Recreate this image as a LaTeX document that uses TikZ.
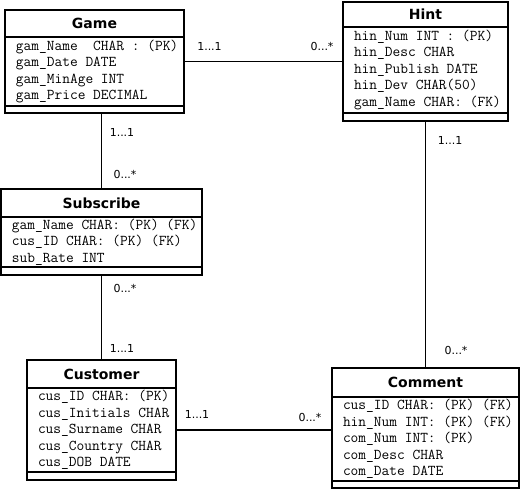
\documentclass[tikz,border=0pt]{standalone}
\usepackage{fontspec}
\newfontfamily\labelfont{DejaVu Sans}
\newcommand\attrfont{\ttfamily\fontsize{15}{16.5}\selectfont}
\newcommand\blank{\hphantom{x}}
\usetikzlibrary{positioning,calc}

\begin{document}
\begin{tikzpicture}[x=1pt, y=-1pt, line width=1.6pt, node distance=0pt]
    \tikzstyle{box}=[draw=black, rectangle, inner sep=0pt, outer sep=0pt]
    \tikzstyle{entity name}=[box, font=\labelfont\bfseries\fontsize{14}{16}\selectfont, minimum height=27pt]
    \tikzstyle{entity attrs}=[box, font=\attrfont, align=left, inner xsep=11pt]
    \tikzstyle{entity tail}=[box, minimum height=8pt]
    \tikzstyle{mult}=[font=\labelfont\fontsize{11}{13}\selectfont]

    \useasboundingbox (0,0) rectangle (520,489);

    % Draw the Game entity
    \node[entity name, minimum width=179pt, anchor=north] (game) at (94.5,10) {Game};
    \node[entity attrs, text width=157pt, minimum height=69pt, below=of game] (game-attrs)
        {gam\_Name\blank\blank CHAR\blank:\blank(PK)\\gam\_Date\blank DATE\\gam\_MinAge\blank INT\\gam\_Price\blank DECIMAL};
    \node[entity tail, minimum width=179pt, minimum height=7pt, below=of game-attrs] (game-tail) {};

    % Draw the Hint entity
    \node[entity name, minimum width=165pt, minimum height=25pt, anchor=north] (hint) at (425.5,2) {Hint};
    \node[entity attrs, text width=143pt, minimum height=86pt, below=of hint] (hint-attrs)
        {hin\_Num\blank INT\blank:\blank(PK)\\hin\_Desc\blank CHAR\\hin\_Publish\blank DATE\\hin\_Dev\blank CHAR(50)\\gam\_Name\blank CHAR:\blank(FK)};
    \node[entity tail, minimum width=165pt, below=of hint-attrs] (hint-tail) {};

    % Draw the Subscribe entity
    \node[entity name, minimum width=201pt, minimum height=28pt, anchor=north] (subscribe) at (101.5,189) {Subscribe};
    \node[entity attrs, text width=179pt, minimum height=50pt, below=of subscribe] (subscribe-attrs)
        {gam\_Name\blank CHAR:\blank(PK)\blank(FK)\\cus\_ID\blank CHAR:\blank(PK)\blank(FK)\\sub\_Rate\blank INT};
    \node[entity tail, minimum width=201pt, below=of subscribe-attrs] (subscribe-tail) {};

    % Draw the Customer entity
    \node[entity name, minimum width=149pt, minimum height=28pt, anchor=north] (customer) at (101.5,360) {Customer};
    \node[entity attrs, text width=127pt, minimum height=84pt, below=of customer] (customer-attrs)
        {cus\_ID\blank CHAR:\blank(PK)\\cus\_Initials\blank CHAR\\cus\_Surname\blank CHAR\\cus\_Country\blank CHAR\\cus\_DOB\blank DATE};
    \node[entity tail, minimum width=149pt, below=of customer-attrs] (customer-tail) {};

    % Draw the Comment entity
    \node[entity name, minimum width=187pt, minimum height=29pt, anchor=north] (comment) at (425.5,368) {Comment};
    \node[entity attrs, text width=165pt, minimum height=84pt, below=of comment] (comment-attrs)
        {cus\_ID\blank CHAR:\blank(PK)\blank(FK)\\hin\_Num\blank INT:\blank(PK)\blank(FK)\\com\_Num\blank INT:\blank(PK)\\com\_Desc\blank CHAR\\com\_Date\blank DATE};
    \node[entity tail, minimum width=187pt, minimum height=7pt, below=of comment-attrs] (comment-tail) {};

    % Connect the entities
    \draw ($(game.north east)!.5!(game-tail.south east)$) -- ($(hint.north west)!.5!(hint-tail.south west)$);
    \draw (subscribe.north |- game-tail.south) -- (subscribe.north);
    \draw (subscribe-tail) -- (customer);
    \draw (hint-tail) -- (comment);
    \draw (customer-attrs.east) -- (customer-attrs.east -| comment-attrs.west);

    % Annotate the multiplicities
    \node[mult] (gh-1) at (209.5,46) {1...1};
    \node[mult] (gh-2) at (322,46) {0...*};
    \node[mult] (gs-1) at (122,132) {1...1};
    \node[mult] (gs-2) at (125,174) {0...*};
    \node[mult] (sc-1) at (125,288) {0...*};
    \node[mult] (sc-2) at (122,348) {1...1};
    \node[mult] (hc-1) at (450,140) {1...1};
    \node[mult] (hc-2) at (456,350) {0...*};
    \node[mult] (cc-1) at (197,414) {1...1};
    \node[mult] (cc-2) at (310,417) {0...*};
\end{tikzpicture}
\end{document}
